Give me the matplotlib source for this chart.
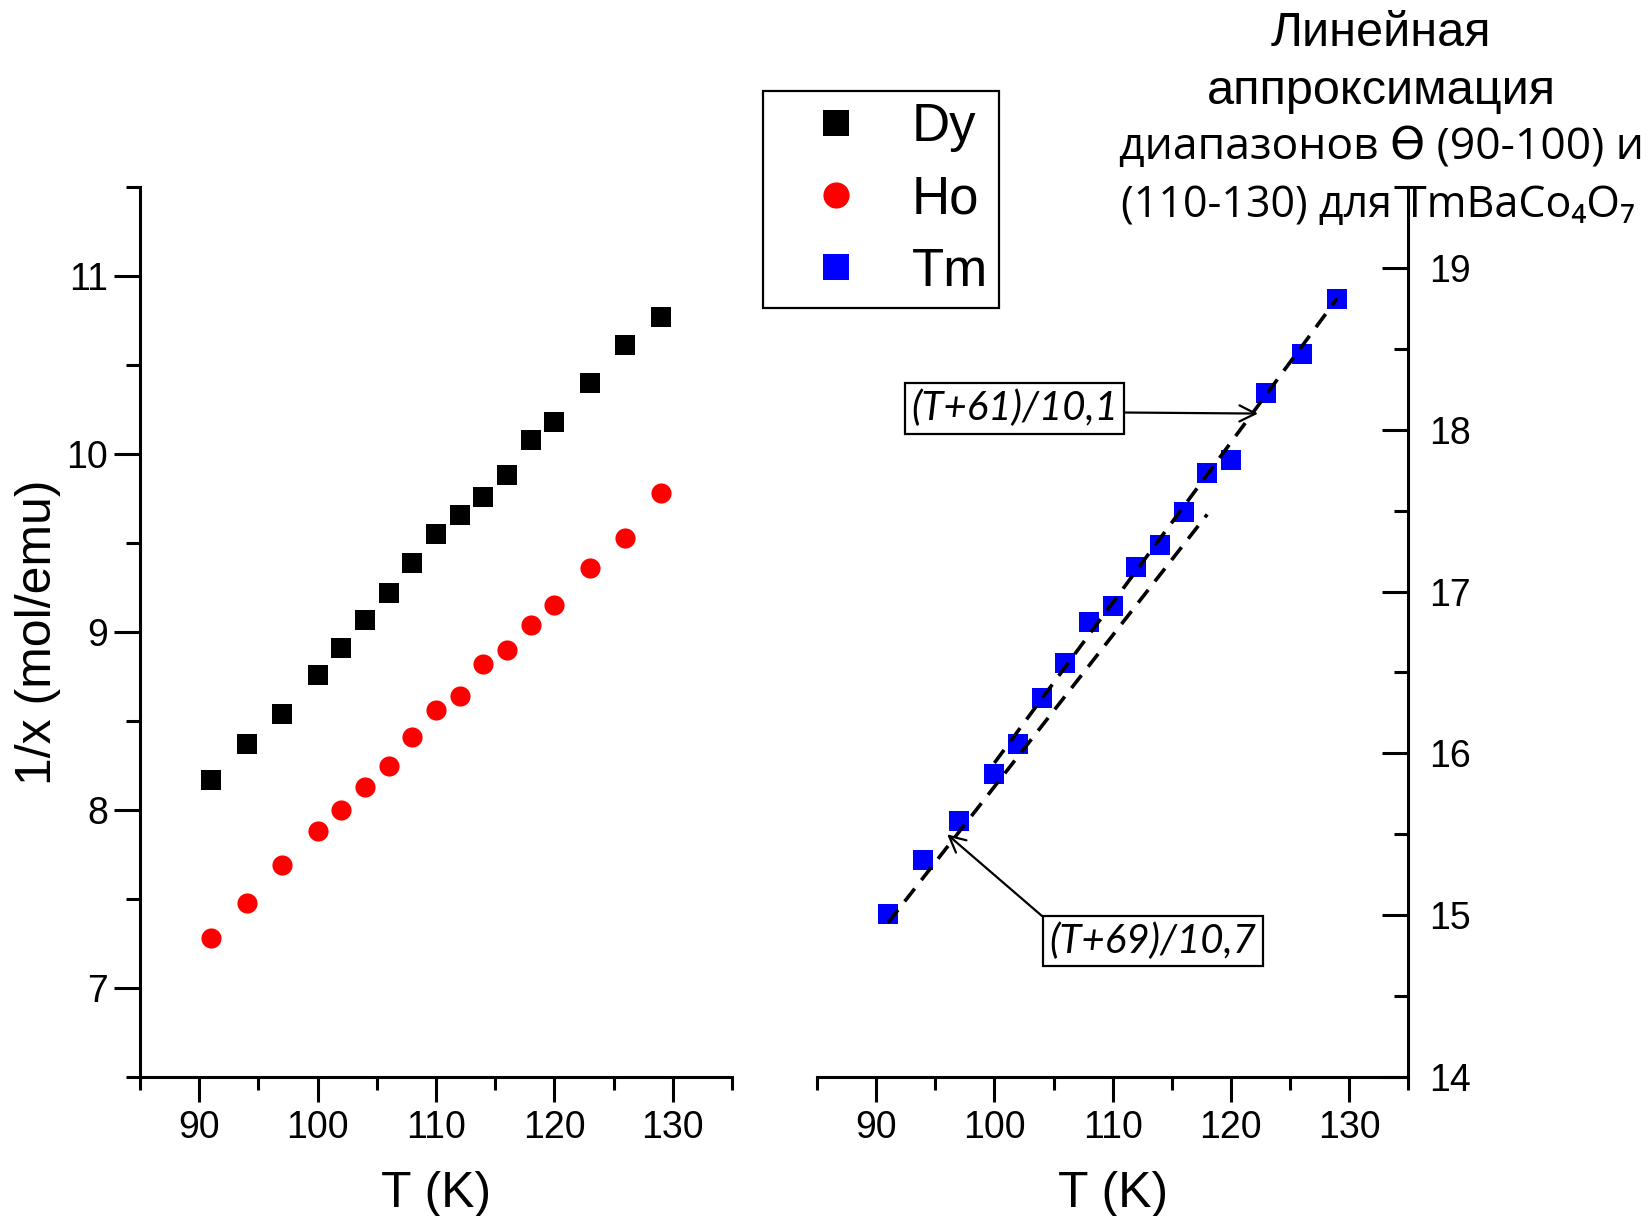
import matplotlib
matplotlib.use("Agg")
import matplotlib.pyplot as plt
from matplotlib.ticker import MultipleLocator
import numpy as np

plt.rcParams['font.family'] = ['Liberation Sans', 'DejaVu Sans']

# temperatures, K
T = [91, 94, 97, 100, 102, 104, 106, 108, 110, 112, 114, 116, 118, 120, 123, 126, 129]
# inverse susceptibility, mol/emu
dy = [8.17, 8.37, 8.54, 8.76, 8.91, 9.07, 9.22, 9.39, 9.55, 9.66, 9.76, 9.88,
      10.08, 10.18, 10.40, 10.61, 10.77]
ho = [7.28, 7.48, 7.69, 7.88, 8.00, 8.13, 8.25, 8.41, 8.56, 8.64, 8.82, 8.90,
      9.04, 9.15, 9.36, 9.53, 9.78]
tm = [15.01, 15.34, 15.58, 15.87, 16.06, 16.34, 16.56, 16.81, 16.91, 17.15, 17.29,
      17.49, 17.73, 17.81, 18.23, 18.47, 18.81]

# linear fits for TmBaCo4O7: 1/x = (T + a) / b, drawn from t0 to t1
fit_low = (69, 10.7, 91, 118)
fit_high = (61, 10.1, 100, 129)

fig = plt.figure(figsize=(16.51, 12.16), dpi=100)
ax1 = fig.add_axes([0.0848, 0.1143, 0.3586, 0.7319])
ax2 = fig.add_axes([0.4949, 0.1143, 0.358, 0.7319])

ms = 14
h_dy, = ax1.plot(T, dy, 's', color='black', ms=ms, mew=0, label='Dy')
h_ho, = ax1.plot(T, ho, 'o', color='#ff0000', ms=ms + 0.5, mew=0, label='Ho')
h_tm, = ax2.plot(T, tm, 's', color='#0000ff', ms=ms, mew=0, label='Tm', zorder=3)

for a, b, t0, t1 in (fit_low, fit_high):
    tt = np.array([t0, t1])
    ax2.plot(tt, (tt + a) / b, color='black', lw=2.6, dashes=(4.5, 3), zorder=4)

for ax in (ax1, ax2):
    ax.set_xlim(85, 135)
    ax.xaxis.set_major_locator(MultipleLocator(10))
    ax.xaxis.set_minor_locator(MultipleLocator(5))
    ax.yaxis.set_minor_locator(MultipleLocator(0.5))
    ax.spines['top'].set_visible(False)
    for s in ax.spines.values():
        s.set_linewidth(2.2)
    ax.tick_params(axis='x', which='major', direction='out', length=18, width=2.2,
                   labelsize=27, pad=6)
    ax.tick_params(axis='x', which='minor', direction='out', length=9, width=2.2)
    ax.set_xlabel('T (K)', fontsize=36, labelpad=18)

ax1.set_ylim(6.5, 11.5)
ax1.yaxis.set_major_locator(MultipleLocator(1))
ax1.spines['right'].set_visible(False)
ax1.tick_params(axis='y', which='major', direction='out', length=19, width=2.2,
                labelsize=27, pad=4)
ax1.tick_params(axis='y', which='minor', direction='out', length=10, width=2.2)
ax1.set_ylabel('1/x (mol/emu)', fontsize=36, labelpad=4)

ax2.set_ylim(14, 19.5)
ax2.yaxis.set_major_locator(MultipleLocator(1))
ax2.spines['left'].set_visible(False)
ax2.yaxis.tick_right()
ax2.tick_params(axis='y', which='major', direction='in', length=19, width=2.2,
                labelsize=27, pad=15, right=True, left=False)
ax2.tick_params(axis='y', which='minor', direction='in', length=10, width=2.2,
                right=True, left=False)

box = dict(boxstyle='square,pad=0.16', fc='white', ec='black', lw=1.6)
ax2.annotate('(T+61)/10,1', xy=(122.3, 18.10), xytext=(101.7, 18.13),
             ha='center', va='center', fontsize=29, style='italic',
             family=['Lato', 'Open Sans'], bbox=box,
             arrowprops=dict(arrowstyle='->', lw=1.6, color='black',
                             relpos=(1.0, 0.4), shrinkA=0, shrinkB=0))
ax2.annotate('(T+69)/10,7', xy=(96.0, 15.5), xytext=(113.4, 14.84),
             ha='center', va='center', fontsize=29, style='italic',
             family=['Lato', 'Open Sans'], bbox=box,
             arrowprops=dict(arrowstyle='->', lw=1.6, color='black',
                             relpos=(0.0, 1.0), shrinkA=0, shrinkB=0))

leg = fig.legend([h_dy, h_ho, h_tm], ['Dy', 'Ho', 'Tm'], loc='upper left',
                 bbox_to_anchor=(0.462, 0.9255), fontsize=38, markerscale=1.3,
                 frameon=True, fancybox=False, edgecolor='black', framealpha=1,
                 borderpad=0.22, handlelength=2.35, handletextpad=0.25,
                 labelspacing=0.42, borderaxespad=0)
leg.get_frame().set_linewidth(1.6)

xc = 0.8366
fig.text(xc, 1 - 34 / 1216, 'Линейная', ha='center', va='center', fontsize=35)
fig.text(xc, 1 - 92 / 1216, 'аппроксимация', ha='center', va='center', fontsize=35)
fig.text(xc, 1 - 148 / 1216, 'диапазонов ϴ (90-100) и', ha='center', va='center',
         fontsize=32, family=['Open Sans', 'DejaVu Sans'])
fig.text(xc - 0.002, 1 - 206 / 1216, '(110-130) для TmBaCo₄O₇', ha='center',
         va='center', fontsize=31, family=['Open Sans', 'DejaVu Sans'])

fig.savefig('out.png', dpi=100)
